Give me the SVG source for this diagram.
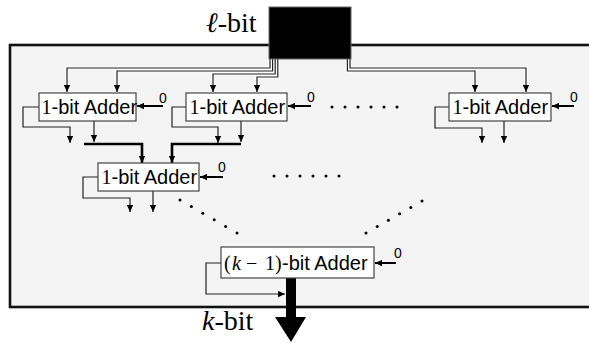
<svg xmlns="http://www.w3.org/2000/svg" width="589" height="343" viewBox="0 0 589 343">
<defs>
<style>
.lbl{font-family:"Liberation Sans",Arial,sans-serif;font-size:20px;fill:#000}
.m{font-family:"Liberation Serif","DejaVu Serif",serif}
.it{font-style:italic}
.zero{font-family:"Liberation Sans",Arial,sans-serif;font-size:14px;fill:#000}
.big{font-family:"Liberation Serif","DejaVu Serif",serif;font-size:28px;fill:#000}
.box{fill:#fff;stroke:#444;stroke-width:1.2}
.w{fill:none;stroke:#222;stroke-width:1.2}
.case{fill:none;stroke:#fff;stroke-width:3.2}
.z{fill:none;stroke:#000;stroke-width:2}
.bus{fill:none;stroke:#000;stroke-width:2.6}
.dot{fill:#000}
</style>
<marker id="ah" viewBox="0 0 10 10" refX="10" refY="5" markerWidth="8" markerHeight="7" markerUnits="userSpaceOnUse" orient="auto"><path d="M0,0.5 L10,5 L0,9.5 z" fill="#000"/></marker>
</defs>
<rect x="10" y="45" width="600" height="262" fill="#f4f4f4" stroke="#111" stroke-width="2.6"/>
<text class="big" x="206" y="32"><tspan class="it">ℓ</tspan>-bit</text>
<text class="big" x="202" y="330"><tspan class="it">k</tspan>-bit</text>
<g id="connectors">
<path class="case" d="M270,59 V68 H67 V90 M272.6,59 V71 H117 V90 M275.2,59 V74 H213 V90 M277.8,59 V77 H257 V90 M350,59 V68 H526 V90 M347.4,59 V71 H475 V90"/>
<path class="w" d="M270,59 V68 H67 V92" marker-end="url(#ah)"/>
<path class="w" d="M272.6,59 V71 H117 V92" marker-end="url(#ah)"/>
<path class="w" d="M275.2,59 V74 H213 V92" marker-end="url(#ah)"/>
<path class="w" d="M277.8,59 V77 H257 V92" marker-end="url(#ah)"/>
<path class="w" d="M350,59 V68 H526 V92" marker-end="url(#ah)"/>
<path class="w" d="M347.4,59 V71 H475 V92" marker-end="url(#ah)"/>
<path class="z" d="M163,106 H137" marker-end="url(#ah)"/>
<path class="z" d="M311,106 H288" marker-end="url(#ah)"/>
<path class="z" d="M574,106 H552" marker-end="url(#ah)"/>
<path class="z" d="M223,177 H200" marker-end="url(#ah)"/>
<path class="z" d="M396,263 H375" marker-end="url(#ah)"/>
<path class="w" d="M39,107 H23 V127 H70 V143" marker-end="url(#ah)"/>
<path class="w" d="M94,121 V142" marker-end="url(#ah)"/>
<path class="w" d="M186,107 H172 V127 H218 V143" marker-end="url(#ah)"/>
<path class="w" d="M241,121 V142" marker-end="url(#ah)"/>
<path class="w" d="M449,107 H435 V128 H482 V143" marker-end="url(#ah)"/>
<path class="w" d="M504,121 V143" marker-end="url(#ah)"/>
<path class="bus" d="M84,144 H142 V163" marker-end="url(#ah)"/>
<path class="bus" d="M241,144 H172 V163" marker-end="url(#ah)"/>
<path class="w" d="M98,177 H83 V198 H130 V212" marker-end="url(#ah)"/>
<path class="w" d="M153,191 V212" marker-end="url(#ah)"/>
<path class="w" d="M221,263 H206 V294 H285" marker-end="url(#ah)"/>
<path d="M286,278 H296 V317 H306 L291,342 L275,317 H286 Z" fill="#000"/>
</g>
<g id="input">
<rect x="269" y="7" width="82" height="52" fill="#000" stroke="#666" stroke-width="1"/>
</g>
<g id="adder1">
<rect class="box" x="39" y="93" width="97" height="28"/>
<text class="lbl" x="41.5" y="114"><tspan class="m">1</tspan>-bit Adder</text>
<text class="zero" x="159" y="103">0</text>
</g>
<g id="adder2">
<rect class="box" x="186" y="93" width="101" height="28"/>
<text class="lbl" x="189.5" y="114"><tspan class="m">1</tspan>-bit Adder</text>
<text class="zero" x="307" y="102">0</text>
</g>
<g id="adder3">
<rect class="box" x="449" y="93" width="102" height="28"/>
<text class="lbl" x="452.5" y="114"><tspan class="m">1</tspan>-bit Adder</text>
<text class="zero" x="570" y="102">0</text>
</g>
<g id="adder4">
<rect class="box" x="98" y="163" width="101" height="28"/>
<text class="lbl" x="101.5" y="184"><tspan class="m">1</tspan>-bit Adder</text>
<text class="zero" x="218" y="172">0</text>
</g>
<g id="adder5">
<rect class="box" x="221" y="247" width="153" height="31"/>
<text class="lbl" y="270"><tspan class="m" x="224">(</tspan><tspan class="m it" x="232">k</tspan><tspan class="m" x="246">−</tspan><tspan class="m" x="265">1</tspan><tspan class="m" x="275">)</tspan><tspan x="282">-bit Adder</tspan></text>
<text class="zero" x="394" y="258">0</text>
</g>
<g id="dots">
<circle class="dot" cx="332" cy="107" r="1.5"/><circle class="dot" cx="345" cy="107" r="1.5"/><circle class="dot" cx="358" cy="107" r="1.5"/><circle class="dot" cx="371" cy="107" r="1.5"/><circle class="dot" cx="384" cy="107" r="1.5"/><circle class="dot" cx="397" cy="107" r="1.5"/>
<circle class="dot" cx="274" cy="176" r="1.5"/><circle class="dot" cx="287" cy="176" r="1.5"/><circle class="dot" cx="300" cy="176" r="1.5"/><circle class="dot" cx="313" cy="176" r="1.5"/><circle class="dot" cx="326" cy="176" r="1.5"/><circle class="dot" cx="339" cy="176" r="1.5"/>
<circle class="dot" cx="180" cy="200" r="1.5"/><circle class="dot" cx="191.4" cy="206.6" r="1.5"/><circle class="dot" cx="202.8" cy="213.2" r="1.5"/><circle class="dot" cx="214.2" cy="219.8" r="1.5"/><circle class="dot" cx="225.6" cy="226.4" r="1.5"/><circle class="dot" cx="237" cy="233" r="1.5"/>
<circle class="dot" cx="366" cy="233" r="1.5"/><circle class="dot" cx="377.2" cy="226.6" r="1.5"/><circle class="dot" cx="388.4" cy="220.2" r="1.5"/><circle class="dot" cx="399.6" cy="213.8" r="1.5"/><circle class="dot" cx="410.8" cy="207.4" r="1.5"/><circle class="dot" cx="422" cy="201" r="1.5"/>
</g>
</svg>
